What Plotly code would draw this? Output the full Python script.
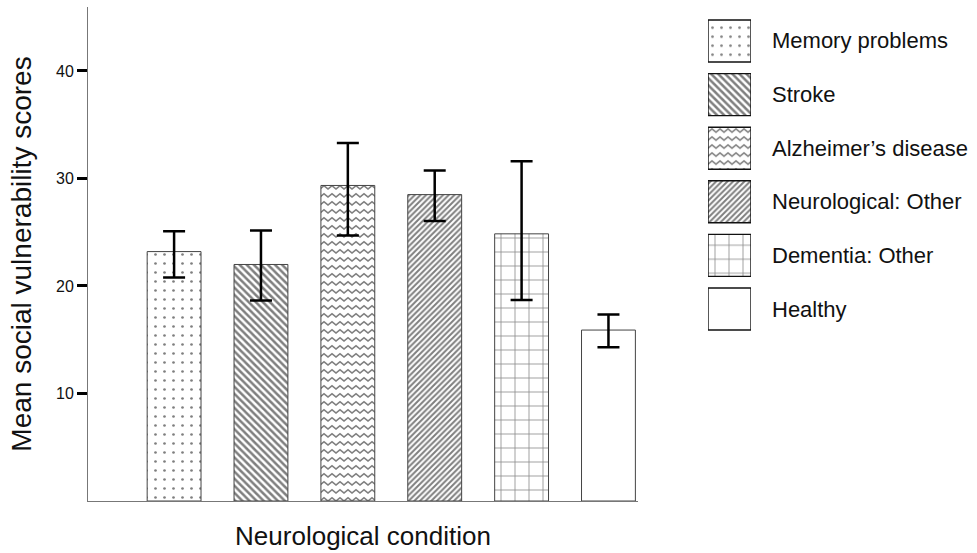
import plotly.graph_objects as go

categories = ["Memory problems", "Stroke", "Alzheimer\u2019s disease",
              "Neurological: Other", "Dementia: Other", "Healthy"]
means = [23.2, 22.0, 29.35, 28.5, 24.85, 15.9]
ci_upper = [25.1, 25.15, 33.3, 30.75, 31.6, 17.35]
ci_lower = [20.8, 18.65, 24.7, 26.05, 18.7, 14.3]
y_ticks = [10, 20, 30, 40]

FONT = "Liberation Sans, Arial, Helvetica, sans-serif"
OUTLINE = "#444444"

WAVE_PATH = "M0,5 L4,1.8 L8,5 L8,6.9 L4,3.7 L0,6.9 Z"
wave = dict(shape="-", size=8, solidity=0.3, fgcolor="#000000", bgcolor="white", fillmode="overlay")
try:
    go.bar.marker.Pattern(path=WAVE_PATH)
    wave = dict(path=WAVE_PATH, size=8, solidity=0.3,
                fgcolor="#000000", bgcolor="white", fillmode="overlay")
except Exception:
    pass

base_patterns = [
    dict(shape=".", size=9, solidity=0.07, fgcolor="#000000", bgcolor="white", fillmode="overlay"),
    dict(shape="\\", size=5, solidity=0.5, fgcolor="#000000", bgcolor="white", fillmode="overlay"),
    wave,
    dict(shape="/", size=4, solidity=0.5, fgcolor="#000000", bgcolor="white", fillmode="overlay"),
    dict(shape="+", size=14, solidity=0.12, fgcolor="#222222", bgcolor="white", fillmode="overlay"),
    dict(shape="", bgcolor="white", fillmode="overlay"),
]

fig = go.Figure()

for i, cat in enumerate(categories):
    fig.add_trace(go.Bar(
        x=[cat], y=[means[i]], width=0.62,
        marker=dict(color="white", line=dict(color=OUTLINE, width=1),
                    pattern=base_patterns[i]),
        error_y=dict(type="data", symmetric=False,
                     array=[ci_upper[i] - means[i]],
                     arrayminus=[means[i] - ci_lower[i]],
                     color="black", thickness=2.5, width=11),
        showlegend=False, xaxis="x", yaxis="y", hoverinfo="skip",
    ))
    # legend swatch
    fig.add_trace(go.Bar(
        y=[cat], x=[1], orientation="h",
        marker=dict(color="white", line=dict(color="#111111", width=1.4),
                    pattern=base_patterns[i]),
        showlegend=False, xaxis="x2", yaxis="y2", hoverinfo="skip",
    ))
    fig.add_annotation(
        x=(770 - 88) / 887, xref="paper", y=cat, yref="y2",
        text=cat, showarrow=False, xanchor="left", yanchor="middle",
        font=dict(family=FONT, size=22, color="#111111"),
    )

fig.update_layout(
    width=977, height=553,
    margin=dict(l=88, r=2, t=7, b=52),
    paper_bgcolor="white", plot_bgcolor="white",
    barmode="overlay", bargap=0.216,
    font=dict(family=FONT, color="#111111"),
    xaxis=dict(domain=[0, 550 / 887], type="category", range=[-0.991, 5.34],
               showticklabels=False, ticks="", showgrid=False, zeroline=False,
               showline=True, linecolor="#777777", linewidth=1,
               title=dict(text="Neurological condition",
                          font=dict(family=FONT, size=26, color="#111111"),
                          standoff=25)),
    yaxis=dict(range=[0, 45.95], tickvals=y_ticks, ticks="outside", ticklen=10,
               tickwidth=3, tickcolor="black", showgrid=False, zeroline=False,
               showline=True, linecolor="#777777", linewidth=1,
               tickfont=dict(family=FONT, size=16, color="#111111"),
               title=dict(text="Mean social vulnerability scores",
                          font=dict(family=FONT, size=28, color="#111111"),
                          standoff=16)),
    xaxis2=dict(domain=[(708 - 88) / 887, (751 - 88) / 887], range=[0, 1],
                anchor="y2", visible=False, fixedrange=True),
    yaxis2=dict(domain=[(501 - 335.8) / 494, (501 - 14.2) / 494], type="category",
                categoryorder="array", categoryarray=categories,
                autorange="reversed", anchor="x2", visible=False, fixedrange=True),
)

fig.write_html("out.html", config={"displayModeBar": False},
               post_script="document.body.style.margin='0';")
